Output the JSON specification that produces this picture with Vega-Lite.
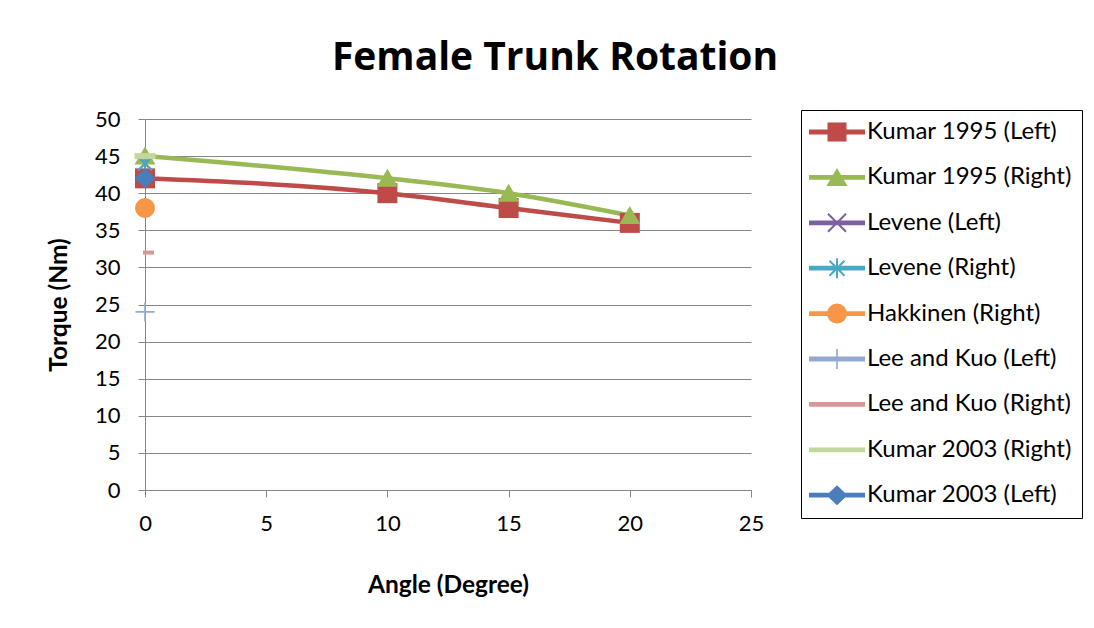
{
  "$schema": "https://vega.github.io/schema/vega-lite/v6.json",
  "width": 606,
  "height": 371,
  "autosize": {"type": "none"},
  "padding": {"left": 145, "top": 119, "right": 343, "bottom": 138},
  "background": "white",
  "title": {
    "text": "Female Trunk Rotation",
    "font": "Open Sans",
    "fontSize": 39,
    "fontWeight": "bold",
    "color": "black",
    "anchor": "middle",
    "frame": "group",
    "dx": 107,
    "offset": 30
  },
  "config": {
    "view": {"stroke": null},
    "axis": {
      "labelFont": "Lato",
      "labelFontSize": 22,
      "labelColor": "black",
      "titleFont": "Lato",
      "titleFontSize": 24.5,
      "titleFontWeight": "bold",
      "titleColor": "black",
      "domainColor": "#868686",
      "tickColor": "#868686",
      "gridColor": "#868686",
      "domainWidth": 1,
      "tickWidth": 1,
      "gridWidth": 1
    }
  },
  "data": {
    "values": [
      {"series": "Kumar 1995 (Left)", "angle": 0, "torque": 42},
      {"series": "Kumar 1995 (Left)", "angle": 10, "torque": 40},
      {"series": "Kumar 1995 (Left)", "angle": 15, "torque": 38},
      {"series": "Kumar 1995 (Left)", "angle": 20, "torque": 36},
      {"series": "Kumar 1995 (Right)", "angle": 0, "torque": 45},
      {"series": "Kumar 1995 (Right)", "angle": 10, "torque": 42},
      {"series": "Kumar 1995 (Right)", "angle": 15, "torque": 40},
      {"series": "Kumar 1995 (Right)", "angle": 20, "torque": 37},
      {"series": "Levene (Left)", "angle": 0, "torque": 44},
      {"series": "Levene (Right)", "angle": 0, "torque": 44},
      {"series": "Hakkinen (Right)", "angle": 0, "torque": 38},
      {"series": "Lee and Kuo (Left)", "angle": 0, "torque": 24},
      {"series": "Lee and Kuo (Right)", "angle": 0, "torque": 32},
      {"series": "Kumar 2003 (Right)", "angle": 0, "torque": 45},
      {"series": "Kumar 2003 (Left)", "angle": 0, "torque": 42}
    ]
  },
  "encoding": {
    "x": {
      "field": "angle",
      "type": "quantitative",
      "scale": {"domain": [0, 25], "nice": false, "zero": false},
      "axis": {
        "title": "Angle (Degree)",
        "values": [0, 5, 10, 15, 20, 25],
        "grid": false,
        "labelFlush": false,
        "tickSize": 7,
        "labelPadding": 16,
        "titlePadding": 39
      }
    },
    "y": {
      "field": "torque",
      "type": "quantitative",
      "scale": {"domain": [0, 50], "nice": false},
      "axis": {
        "title": "Torque (Nm)",
        "values": [0, 5, 10, 15, 20, 25, 30, 35, 40, 45, 50],
        "grid": true,
        "labelFlush": false,
        "tickSize": 7,
        "labelPadding": 18,
        "titlePadding": 23
      }
    }
  },
  "resolve": {
    "scale": {"color": "independent", "shape": "independent"},
    "legend": {"color": "independent", "shape": "independent"}
  },
  "layer": [
    {
      "mark": {"type": "line", "strokeWidth": 4.5, "interpolate": "monotone"},
      "encoding": {
        "color": {
          "field": "series",
          "type": "nominal",
          "scale": {
            "domain": ["Kumar 1995 (Left)", "Kumar 1995 (Right)", "Levene (Left)", "Levene (Right)", "Hakkinen (Right)", "Lee and Kuo (Left)", "Lee and Kuo (Right)", "Kumar 2003 (Right)", "Kumar 2003 (Left)"],
            "range": ["#BE4B48", "#98B954", "#7D60A0", "#46AAC5", "#F79646", "#93A9CF", "#D99694", "#C3D69B", "#4A7EBB"]
          },
          "legend": null
        }
      }
    },
    {
      "mark": {"type": "point", "filled": true, "opacity": 1, "size": 400, "strokeWidth": 0},
      "encoding": {
        "color": {
          "field": "series",
          "type": "nominal",
          "scale": {
            "domain": ["Kumar 1995 (Left)", "Kumar 1995 (Right)", "Levene (Left)", "Levene (Right)", "Hakkinen (Right)", "Lee and Kuo (Left)", "Lee and Kuo (Right)", "Kumar 2003 (Right)", "Kumar 2003 (Left)"],
            "range": ["#BE4B48", "#98B954", "#7D60A0", "#46AAC5", "#F79646", "#93A9CF", "#D99694", "#C3D69B", "#4A7EBB"]
          },
          "legend": null
        },
        "shape": {
          "field": "series",
          "type": "nominal",
          "scale": {
            "domain": ["Kumar 1995 (Left)", "Kumar 1995 (Right)", "Levene (Left)", "Levene (Right)", "Hakkinen (Right)", "Lee and Kuo (Left)", "Lee and Kuo (Right)", "Kumar 2003 (Right)", "Kumar 2003 (Left)"],
            "range": [
              "M-1,-1L1,-1L1,1L-1,1Z",
              "M0,-0.95L1.05,0.85L-1.05,0.85Z",
              "M-0.679,-0.821L0.821,0.679L0.679,0.821L-0.821,-0.679ZM-0.821,0.679L0.679,-0.821L0.821,-0.679L-0.679,0.821Z",
              "M-0.629,-0.771L0.771,0.629L0.629,0.771L-0.771,-0.629ZM-0.771,0.629L0.629,-0.771L0.771,-0.629L-0.629,0.771ZM-0.1,-0.95L0.1,-0.95L0.1,0.95L-0.1,0.95Z",
              "M1,0L0.924,0.383L0.707,0.707L0.383,0.924L0,1L-0.383,0.924L-0.707,0.707L-0.924,0.383L-1,0L-0.924,-0.383L-0.707,-0.707L-0.383,-0.924L0,-1L0.383,-0.924L0.707,-0.707L0.924,-0.383Z",
              "M-0.95,-0.08L0.95,-0.08L0.95,0.08L-0.95,0.08ZM-0.08,-0.95L0.08,-0.95L0.08,0.95L-0.08,0.95Z",
              "M-0.2,-0.2L0.9,-0.2L0.9,0.2L-0.2,0.2Z",
              "M-1.05,-0.3L1.05,-0.3L1.05,0.3L-1.05,0.3Z",
              "M0,-1L1.05,0L0,1L-1.05,0Z"
            ]
          },
          "legend": null
        }
      }
    },
    {
      "mark": {"type": "point", "filled": true, "opacity": 0, "size": 400, "strokeWidth": 0},
      "encoding": {
        "color": {
          "field": "series",
          "type": "nominal",
          "scale": {
            "domain": ["Kumar 1995 (Left)", "Kumar 1995 (Right)", "Levene (Left)", "Levene (Right)", "Hakkinen (Right)", "Lee and Kuo (Left)", "Lee and Kuo (Right)", "Kumar 2003 (Right)", "Kumar 2003 (Left)"],
            "range": ["#BE4B48", "#98B954", "#7D60A0", "#46AAC5", "#F79646", "#93A9CF", "#D99694", "#C3D69B", "#4A7EBB"]
          },
          "legend": {
            "title": null,
            "orient": "none",
            "legendX": 656,
            "legendY": -9,
            "strokeColor": "black",
            "padding": 10,
            "rowPadding": 21.4,
            "symbolSize": 400,
            "symbolOpacity": 1,
            "symbolStrokeWidth": 0,
            "symbolOffset": 14,
            "labelOffset": 18,
            "labelFont": "Lato",
            "labelFontSize": 24,
            "labelColor": "black",
            "labelLimit": 400
          }
        },
        "shape": {
          "field": "series",
          "type": "nominal",
          "scale": {
            "domain": ["Kumar 1995 (Left)", "Kumar 1995 (Right)", "Levene (Left)", "Levene (Right)", "Hakkinen (Right)", "Lee and Kuo (Left)", "Lee and Kuo (Right)", "Kumar 2003 (Right)", "Kumar 2003 (Left)"],
            "range": [
              "M-2.8,-0.24L2.8,-0.24L2.8,0.24L-2.8,0.24ZM-0.95,-0.95L0.95,-0.95L0.95,0.95L-0.95,0.95Z",
              "M-2.8,-0.24L2.8,-0.24L2.8,0.24L-2.8,0.24ZM0,-0.95L1.05,0.85L-1.05,0.85Z",
              "M-2.8,-0.24L2.8,-0.24L2.8,0.24L-2.8,0.24ZM-0.829,-0.971L0.971,0.829L0.829,0.971L-0.971,-0.829ZM-0.971,0.829L0.829,-0.971L0.971,-0.829L-0.829,0.971Z",
              "M-2.8,-0.24L2.8,-0.24L2.8,0.24L-2.8,0.24ZM-0.679,-0.821L0.821,0.679L0.679,0.821L-0.821,-0.679ZM-0.821,0.679L0.679,-0.821L0.821,-0.679L-0.679,0.821ZM-0.1,-1L0.1,-1L0.1,1L-0.1,1Z",
              "M-2.8,-0.24L2.8,-0.24L2.8,0.24L-2.8,0.24ZM1,0L0.924,0.383L0.707,0.707L0.383,0.924L0,1L-0.383,0.924L-0.707,0.707L-0.924,0.383L-1,0L-0.924,-0.383L-0.707,-0.707L-0.383,-0.924L0,-1L0.383,-0.924L0.707,-0.707L0.924,-0.383Z",
              "M-2.8,-0.24L2.8,-0.24L2.8,0.24L-2.8,0.24ZM-0.08,-1L0.08,-1L0.08,1L-0.08,1Z",
              "M-2.8,-0.24L2.8,-0.24L2.8,0.24L-2.8,0.24Z",
              "M-2.8,-0.24L2.8,-0.24L2.8,0.24L-2.8,0.24Z",
              "M-2.8,-0.24L2.8,-0.24L2.8,0.24L-2.8,0.24ZM0,-1L1.05,0L0,1L-1.05,0Z"
            ]
          },
          "legend": null
        }
      }
    }
  ]
}
